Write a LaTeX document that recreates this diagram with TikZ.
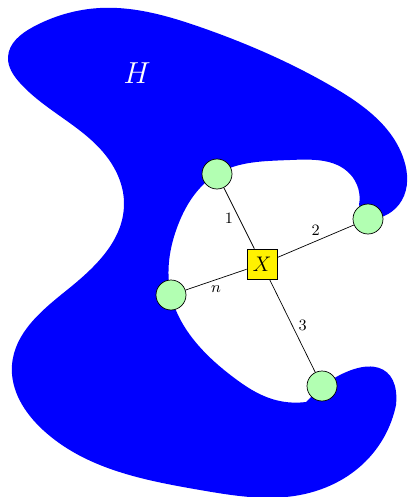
\documentclass[tikz,border=0pt]{standalone}
\usepackage{tikz}
\usetikzlibrary{positioning,hobby}

\begin{document}
\begin{tikzpicture}[
    x=0.02cm, y=-0.02cm,
    every node/.style={font=\small},
    vertex/.style={draw, circle, fill=green!30, minimum size=0.6cm, inner sep=0pt},
    factor/.style={draw, rectangle, fill=yellow, minimum size=0.6cm, inner sep=0pt, font=\large},
    region/.style={fill=blue}
]
\useasboundingbox (0,0) rectangle (410,497);
% positions of the nodes
\coordinate (p1) at (217,174);
\coordinate (p2) at (368,219);
\coordinate (p3) at (322,386);
\coordinate (pn) at (171,295);
\coordinate (px) at (262,264);
% the region H
\fill[region] (p2)
  to[curve through={(402,200) (404,160) (333,87) (200,27) (100,8) (33,27)
    (8,57) (20,83) (107,157) (124,205) (67,290) (12,365) (43,430)
    (200,490) (300,495) (365,462)}] (396,405)
  .. controls (400,365) and (370,352) .. (p3)
  -- (306,402)
  to[curve through={(272,399) (233,377) (198,345) (pn) (178,225) (p1)
    (290,160) (350,174)}] (359,205)
  -- (p2) -- cycle;
\node[text=white, font=\LARGE] (h) at (137,73) {$H$};
% factor and variables
\node[factor] (x) at (px) {$X$};
\node[vertex] (v1) at (p1) {};
\node[vertex] (v2) at (p2) {};
\node[vertex] (v3) at (p3) {};
\node[vertex] (vn) at (pn) {};
\draw (x) -- node[left] {1} (v1);
\draw (x) -- node[above] {2} (v2);
\draw (x) -- node[right] {3} (v3);
\draw (x) -- node[below] {$n$} (vn);
\end{tikzpicture}
\end{document}
